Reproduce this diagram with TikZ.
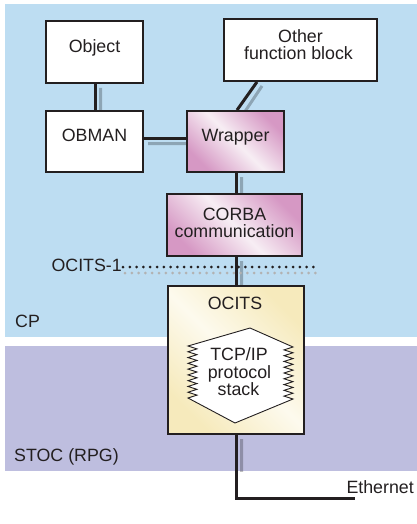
\documentclass[tikz,border=0pt]{standalone}
\usepackage{fontspec}
\setmainfont{Liberation Sans}
\pgfdeclarelayer{bg}
\pgfdeclarelayer{shadowlayer}
\pgfsetlayers{bg,shadowlayer,main}
\definecolor{cpblue}{RGB}{189,221,242}
\definecolor{stocpurple}{RGB}{190,190,223}
\definecolor{ink}{RGB}{35,31,32}
\definecolor{pinkdark}{RGB}{214,152,196}
\definecolor{pinklight}{RGB}{247,238,244}
\definecolor{yeldark}{RGB}{246,234,188}
\definecolor{yellight}{RGB}{253,250,238}
\tikzset{
  box/.style={draw=ink, line width=1.8pt, fill=white, inner sep=0pt},
  pinkbox/.style={box, shading=axis, top color=pinkdark, bottom color=pinkdark, middle color=pinklight, shading angle=-45},
  yelbox/.style={box, shading=axis, top color=yeldark, bottom color=yeldark, middle color=yellight, shading angle=-45},
  lbl/.style={text=ink, inner sep=0pt, font=\fontsize{17.8}{17.8}\selectfont},
  conn/.style={draw=ink, line width=3pt},
  shconn/.style={draw=black, line width=3pt},
  dotline/.style={line width=3pt, line cap=round, dash pattern=on 0pt off 6.8pt}
}
\begin{document}
\begin{tikzpicture}[x=1pt,y=-1pt]
\useasboundingbox (0,0) rectangle (417,524);
\begin{pgfonlayer}{bg}
  \fill[cpblue] (5,4) rectangle (417,337);
  \fill[stocpurple] (5,346) rectangle (417,471);
\end{pgfonlayer}

% boxes
\node[box, minimum width=97pt, minimum height=62pt] (obj) at (94.5,52) {};
\node[box, minimum width=97pt, minimum height=61pt] (obman) at (94.5,141.5) {};
\node[box, minimum width=153pt, minimum height=62pt] (other) at (300.5,50) {};
\node[pinkbox, minimum width=97pt, minimum height=61pt] (wrap) at (235.5,141.5) {};
\node[pinkbox, minimum width=135pt, minimum height=62pt] (corba) at (234.5,225) {};
\node[yelbox, minimum width=136pt, minimum height=148pt] (ocits) at (236,360) {};
\coordinate (eth) at (355,498.5);
\coordinate (dotL) at (123,267);
\coordinate (dotR) at (320,267);

% connectors
\draw[conn] (obj.south -| 95.5,0) -- (obman.north -| 95.5,0);
\draw[conn] (obman.east |- 0,138.5) -- (wrap.west |- 0,138.5);
\draw[conn] (wrap.north -| 237,0) -- (other.south -| 257,0);
\draw[conn] (wrap.south -| 236.5,0) -- (corba.north -| 236.5,0);
\draw[conn] (corba.south -| 236.5,0) -- (ocits.north -| 236.5,0);
\draw[conn] (ocits.south -| 236.5,0) -- (236.5,498.5) -- (eth);
\draw[dotline, draw=ink] (dotL) -- (dotR);

% shadows
\begin{pgfonlayer}{shadowlayer}
  \begin{scope}
    \clip (5,4) rectangle (417,337) (5,346) rectangle (417,471);
    \begin{scope}[transparency group, opacity=0.25, shift={(5,5)}]
      \foreach \n in {obj,obman,other,wrap,corba,ocits}{
        \fill[black] (\n.north west) rectangle (\n.south east);
      }
      \draw[shconn] (95.5,83) -- (95.5,111);
      \draw[shconn] (143,138.5) -- (187,138.5);
      \draw[shconn] (237,111) -- (257,81);
      \draw[shconn] (236.5,172) -- (236.5,194);
      \draw[shconn] (236.5,256) -- (236.5,286);
      \draw[shconn] (236.5,434) -- (236.5,498.5) -- (355,498.5);
    \end{scope}
    \draw[dotline, draw=black!30] ([shift={(2,6)}]dotL) -- ([shift={(2,6)}]dotR);
  \end{scope}
\end{pgfonlayer}

% protocol stack shape
\draw[ink, line width=0.9pt, fill=white, line join=miter]
  (250,328) -- (293,347)
  \foreach \i in {1,...,18}{ -- ({293-9*mod(\i,2)},{347+\i*52/18}) }
  -- (235,423) -- (188,398)
  \foreach \i in {1,...,18}{ -- ({188+9*mod(\i,2)},{398-\i*52/18}) }
  -- cycle;

% labels
\node[lbl, anchor=base] (tobj) at (94.5,52.5) {Object};
\node[lbl, anchor=base] (tobman) at (94.5,141.7) {OBMAN};
\node[lbl, anchor=base] (twrap) at (235.5,141.7) {Wrapper};
\node[lbl, anchor=base] (toth1) at (300.5,42.3) {Other};
\node[lbl, anchor=base] (toth2) at (298.5,60) {function block};
\node[lbl, anchor=base] (tcor1) at (234.5,220.7) {CORBA};
\node[lbl, anchor=base] (tcor2) at (234.5,237.7) {communication};
\node[lbl, anchor=base] (tocits) at (235,309) {OCITS};
\node[lbl, anchor=base] (ttcp1) at (239,360) {TCP/IP};
\node[lbl, anchor=base] (ttcp2) at (239.5,378.3) {protocol};
\node[lbl, anchor=base] (ttcp3) at (238.5,395.7) {stack};
\node[lbl, anchor=base east] (tocits1) at (122,271) {OCITS-1};
\node[lbl, anchor=base west] (tcp) at (15,327.7) {CP};
\node[lbl, anchor=base west] (tstoc) at (14,461) {STOC (RPG)};
\node[lbl, anchor=base east] (teth) at (414,493.5) {Ethernet};
\end{tikzpicture}
\end{document}
